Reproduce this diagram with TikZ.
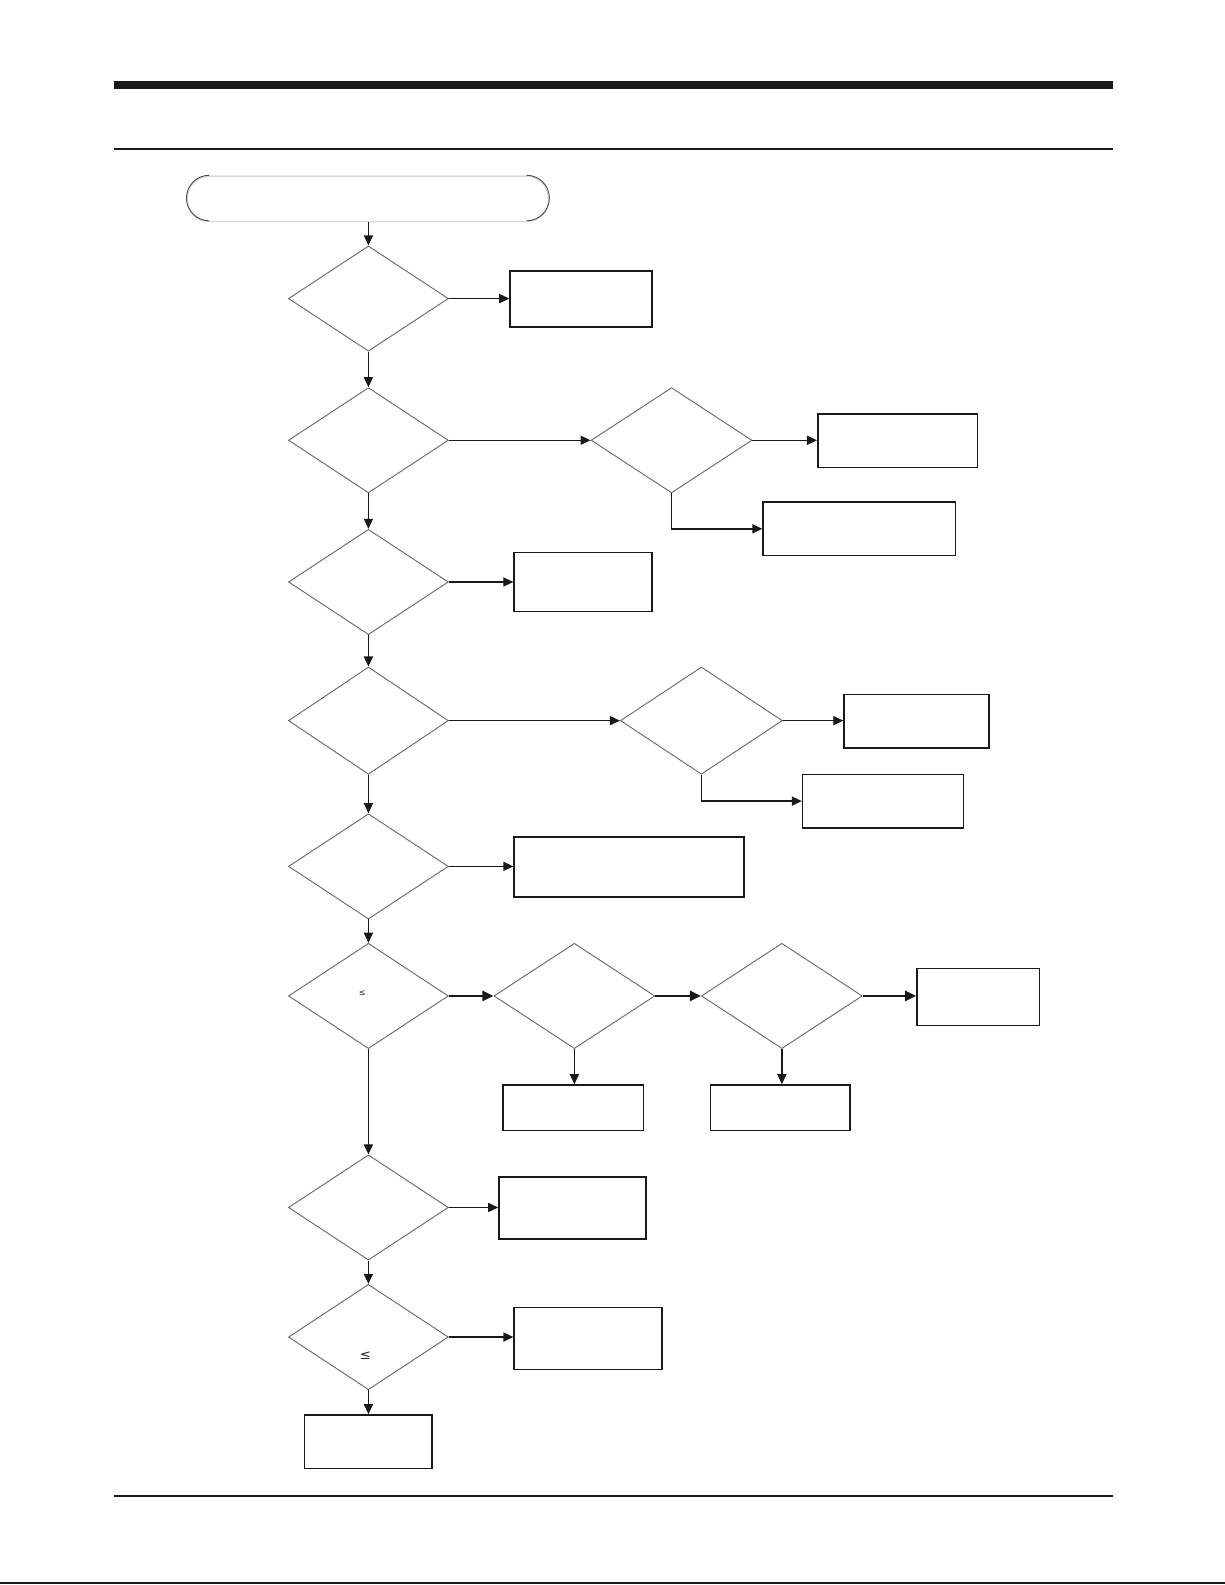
\documentclass[tikz,border=0pt]{standalone}
\usepackage{fontspec}
\newfontfamily\symfnt{DejaVu Sans}
\usetikzlibrary{shapes.geometric,arrows.meta}
\tikzset{
  dec/.style={shape=diamond, draw=black!60, line width=0.45pt, inner sep=0pt,
              minimum width=79pt, minimum height=52pt},
  box/.style={shape=rectangle, draw=black!90, line width=0.75pt, inner sep=0pt},
  conn/.style={draw=black!90, line width=0.7pt, -{Triangle[length=5pt,width=4.5pt]}},
  thickconn/.style={draw=black!90, line width=1.3pt, -{Triangle[length=5.5pt,width=5pt]}},
  rule/.style={draw=black!90},
  lesym/.style={inner sep=0pt, text=black!85}
}
\begin{document}
\begin{tikzpicture}[x=0.5pt,y=-0.5pt]
\useasboundingbox (0,0) rectangle (1210,1566);
% page rules
\fill[black!90] (113,80) rectangle (1100,88);
\draw[rule, line width=0.75pt] (113,147) -- (1100,147);
\draw[rule, line width=0.7pt] (113,1478) -- (1100,1478);
\draw[rule, line width=1pt] (0,1564) -- (1210,1564);

% start terminal
\node[draw=black!15, line width=0.8pt, rounded corners=11pt, minimum width=178.5pt, minimum height=22.5pt, inner sep=0pt] (start) at (363.5,196.5) {};
\draw[black!70, line width=0.45pt] ([xshift=11.25pt]start.north west) arc (90:270:11.25pt);
\draw[black!70, line width=0.45pt] ([xshift=-11.25pt]start.north east) arc (90:-90:11.25pt);

% main column decisions
\node[dec] (d1) at (364,295) {};
\node[dec] (d2) at (364,435) {};
\node[dec] (d3) at (364,575) {};
\node[dec, minimum height=53pt] (d4) at (364,712) {};
\node[dec] (d5) at (364,856) {};
\node[dec] (d6) at (364,984) {};
\node[dec] (d7) at (364,1193) {};
\node[dec] (d8) at (364,1321) {};

% side decisions
\node[dec, minimum width=79.5pt] (d2b) at (663.5,435) {};
\node[dec, minimum width=80pt, minimum height=53pt] (d4b) at (693,712) {};
\node[dec, minimum width=79.5pt] (d6b) at (567.5,984) {};
\node[dec, minimum width=79.5pt] (d6c) at (772.5,984) {};

% symbols
\node[lesym, font=\symfnt\fontsize{4}{4}\selectfont] (le6) at (358,981) {≤};
\node[lesym, font=\symfnt\fontsize{6.5}{6.5}\selectfont] (le8) at (361,1339) {≤};

% boxes
\node[box, minimum width=70pt, minimum height=27.5pt] (b1) at (574,295.5) {};
\node[box, minimum width=79pt, minimum height=26.5pt] (b2a) at (887,435.5) {};
\node[box, minimum width=95pt, minimum height=26.5pt] (b2b) at (849,522.5) {};
\node[box, minimum width=68pt, minimum height=29pt] (b3) at (576,575) {};
\node[box, minimum width=71.5pt, minimum height=26.5pt] (b4a) at (905.5,712.5) {};
\node[box, minimum width=79.5pt, minimum height=26.5pt] (b4b) at (872.5,791.5) {};
\node[box, minimum width=113.5pt, minimum height=29.5pt] (b5) at (621.5,856.5) {};
\node[box, minimum width=60.5pt, minimum height=28pt] (b6a) at (966.5,985) {};
\node[box, minimum width=69.5pt, minimum height=22.5pt] (b6b) at (566.5,1094.5) {};
\node[box, minimum width=69pt, minimum height=22.5pt] (b6c) at (771,1094.5) {};
\node[box, minimum width=72.5pt, minimum height=30.5pt] (b7) at (565.5,1193.5) {};
\node[box, minimum width=73pt, minimum height=30.5pt] (b8) at (581,1322.5) {};
\node[box, minimum width=63pt, minimum height=26.5pt] (b9) at (364,1424.5) {};

% main column connectors
\draw[conn] (start.south -| d1.north) -- (d1.north);
\draw[conn] (d1.south) -- (d2.north);
\draw[conn] (d2.south) -- (d3.north);
\draw[conn] (d3.south) -- (d4.north);
\draw[conn] (d4.south) -- (d5.north);
\draw[conn] (d5.south) -- (d6.north);
\draw[conn] (d6.south) -- (d7.north);
\draw[conn] (d7.south) -- (d8.north);
\draw[conn] (d8.south) -- (b9.north);

% side connectors
\draw[conn] (d1.east) -- (d1.east -| b1.west);
\draw[conn] (d2.east) -- (d2b.west);
\draw[conn] (d2b.east) -- (d2b.east -| b2a.west);
\draw[conn] (d2b.south) |- (b2b.west);
\coordinate (k3) at (475,575);
\draw[conn] (d3.east) -- (d3.east -| b3.west);
\draw[line width=1.3pt, black!90] (k3) -- ([xshift=-4pt]k3 -| b3.west);
\draw[conn] (d4.east) -- (d4b.west);
\draw[conn] (d4b.east) -- (d4b.east -| b4a.west);
\draw[conn] (d4b.south) |- (b4b.west);
\draw[conn] (d5.east) -- (d5.east -| b5.west);
\draw[thickconn] (d6.east) -- (d6b.west);
\draw[thickconn] (d6b.east) -- (d6c.west);
\draw[thickconn] (d6c.east) -- (d6c.east -| b6a.west);
\draw[conn] (d6b.south) -- (d6b.south |- b6b.north);
\draw[conn] (d6c.south) -- (d6c.south |- b6c.north);
\draw[conn] (d7.east) -- (d7.east -| b7.west);
\draw[conn] (d8.east) -- (d8.east -| b8.west);
\end{tikzpicture}
\end{document}
